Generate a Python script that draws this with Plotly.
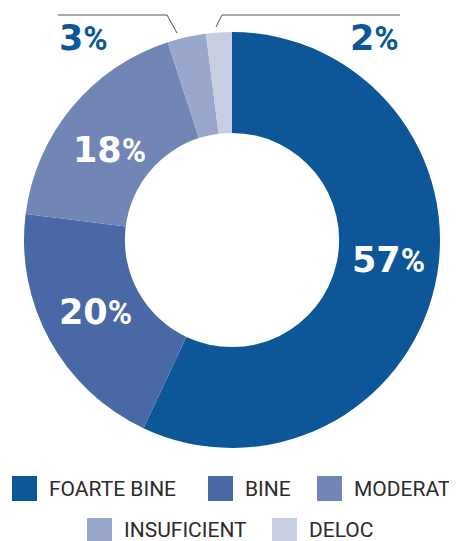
import plotly.graph_objects as go

# window size and body offset (page default margin)
WIN_W, WIN_H = 457, 541
OFF = 8
W, H = WIN_W - OFF, WIN_H - OFF

labels = ["FOARTE BINE", "BINE", "MODERAT", "INSUFICIENT", "DELOC"]
values = [57, 20, 18, 3, 2]
colors = ["#0d5798", "#4869a5", "#7286b5", "#9aa7cc", "#c7cde3"]

def px(x):
    return (x - OFF) / W

def py(y):
    return 1 - (y - OFF) / H

PCT = "<span style='font-family:Roboto;font-size:33px'><b>%</b></span>"
NUM_FONT = "DejaVu Sans"

fig = go.Figure()
fig.add_trace(go.Pie(
    labels=labels,
    values=values,
    sort=False,
    direction="clockwise",
    rotation=0,
    hole=0.515,
    marker=dict(colors=colors, line=dict(width=0)),
    textinfo="none",
    domain=dict(x=[px(24), px(440)], y=[py(448), py(32)]),
    showlegend=False,
    hoverinfo="label+percent",
))

annotations = []
shapes = []

# percentage labels: (x, y, anchor, colour) in window pixels
label_layout = [
    (388, 260, "center", "white"),
    (95, 312, "center", "white"),
    (109, 150, "center", "white"),
    (57, 38, "left", colors[0]),
    (401, 38, "right", colors[0]),
]
for v, (lx, ly, anchor, col) in zip(values, label_layout):
    annotations.append(dict(
        x=px(lx), y=py(ly), xref="paper", yref="paper",
        xanchor=anchor, yanchor="middle", showarrow=False,
        text=f"<b>{v}</b>{PCT}",
        font=dict(family=NUM_FONT, size=35, color=col),
    ))

line_style = dict(color="#555555", width=1)
shapes.append(dict(type="path", xref="paper", yref="paper",
                   path=f"M{px(58)},{py(15)} L{px(167)},{py(15)} L{px(177)},{py(33)}",
                   line=line_style))
shapes.append(dict(type="path", xref="paper", yref="paper",
                   path=f"M{px(400)},{py(15)} L{px(222)},{py(15)} L{px(216)},{py(27)}",
                   line=line_style))

# manual legend
legend_pos = [(12, 488.5), (208, 488.5), (317, 488.5), (87, 530.5), (272, 530.5)]
for k, ((lx, ly), lab, col) in enumerate(zip(legend_pos, labels, colors)):
    shapes.append(dict(type="rect", xref="paper", yref="paper",
                       x0=px(lx), x1=px(lx + 25), y0=py(ly - 12.5), y1=py(ly + 12.5),
                       fillcolor=col, line=dict(width=0)))
    if k < 3:
        yy, ya, ys = py(ly), "middle", 0
    else:
        yy, ya, ys = 0, "bottom", -3
    annotations.append(dict(
        x=px(lx + 35), y=yy, yshift=ys, xref="paper", yref="paper",
        xanchor="left", yanchor=ya, showarrow=False, text=lab,
        font=dict(family="Roboto", size=21, color="#2b2b2b"),
    ))

fig.update_layout(
    width=W, height=H,
    margin=dict(l=0, r=0, t=0, b=0),
    paper_bgcolor="white", plot_bgcolor="white",
    annotations=annotations, shapes=shapes,
)

fig.write_html("out.html")
